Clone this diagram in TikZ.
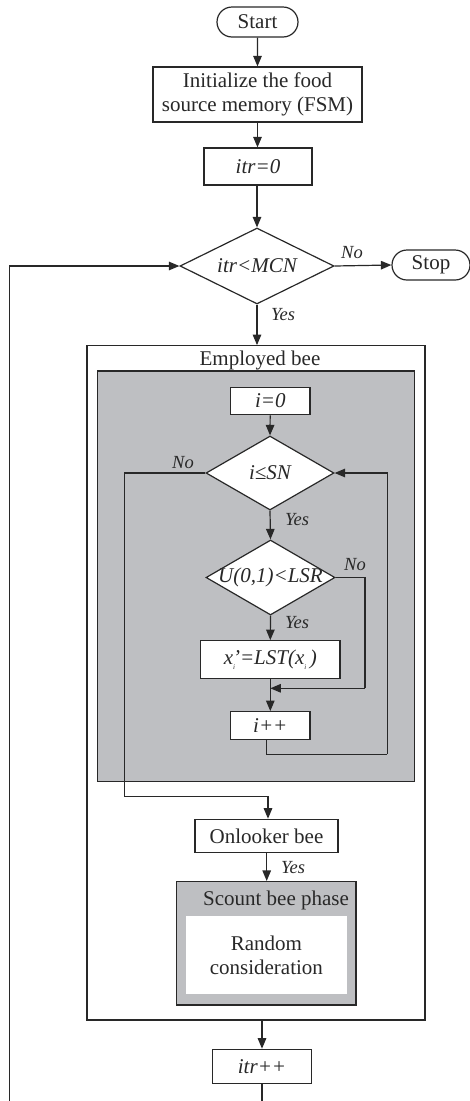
\documentclass[tikz,border=0pt]{standalone}
\usepackage{fontspec}
\setmainfont{Liberation Serif}
\usetikzlibrary{shapes.geometric,shapes.misc,arrows.meta}
\definecolor{ln}{RGB}{40,40,40}
\definecolor{fillgray}{RGB}{190,191,194}
\tikzset{
  base/.style={draw=ln, line width=1.2pt, inner sep=0pt, font=\fontsize{21}{24}\selectfont, text=ln},
  box/.style={base, rectangle, fill=white},
  term/.style={base, rounded rectangle, fill=white},
  dia/.style={base, diamond, fill=white},
  arr/.style={draw=ln, line width=1.2pt, -{Triangle[length=10.5pt,width=8.5pt]}},
  ln/.style={draw=ln, line width=1.2pt},
  lab/.style={font=\fontsize{18.5}{20}\selectfont\itshape, text=ln, inner sep=0pt},
  txt/.style={font=\fontsize{21}{24}\selectfont, text=ln, inner sep=0pt}
}
\begin{document}
\begin{tikzpicture}[x=1pt,y=-1pt]
\useasboundingbox (0,0) rectangle (470,1101);
% containers
\node[base, rectangle, minimum width=338pt, minimum height=674.3pt] (emp) at (256,682.85) {};
\node[txt] (emplab) at (260,360) {Employed bee};
\node[base, rectangle, fill=fillgray, minimum width=317.4pt, minimum height=410.7pt] (gray) at (256,576.35) {};
% top flow
\node[term, minimum width=81pt, minimum height=30pt] (start) at (257.5,22) {Start};
\node[box, minimum width=209pt, minimum height=55pt, align=center] (init) at (257.5,94.5) {Initialize the food\\source memory (FSM)};
\node[box, minimum width=108pt, minimum height=37pt, font=\fontsize{21}{24}\selectfont\itshape] (itr0) at (258,166.5) {itr=0};
\node[dia, minimum width=154pt, minimum height=76pt, label={[txt, font=\fontsize{21}{24}\selectfont\itshape]center:itr<MCN}] (d1) at (257,266) {};
\node[term, minimum width=78pt, minimum height=30pt] (stop) at (431,265) {Stop};
% inner loop
\node[box, minimum width=79.3pt, minimum height=27.7pt, font=\fontsize{21}{24}\selectfont\itshape] (i0) at (270.3,401) {i=0};
\node[dia, minimum width=128pt, minimum height=74pt, label={[txt, font=\fontsize{21}{24}\selectfont\itshape]center:i≤SN}] (d2) at (270,473) {};
\node[dia, minimum width=129pt, minimum height=75pt, label={[txt, font=\fontsize{21}{24}\selectfont\itshape]center:U(0,1)<LSR}] (d3) at (270.5,577.5) {};
\node[box, minimum width=139.3pt, minimum height=37.6pt, font=\fontsize{21}{24}\selectfont\itshape] (xb) at (270.3,659.5) {x\makebox[0pt][l]{\raisebox{-0.5ex}{\fontsize{7}{7}\selectfont i}}’=LST(x\raisebox{-0.5ex}{\fontsize{7}{7}\selectfont i}\,)};
\node[box, minimum width=79.3pt, minimum height=27.6pt, font=\fontsize{21}{24}\selectfont\itshape] (ipp) at (270.3,725.5) {i++};
% lower part
\node[box, minimum width=143pt, minimum height=33.4pt] (onl) at (266.5,836) {Onlooker bee};
\node[base, rectangle, fill=fillgray, line width=1.5pt, minimum width=179.3pt, minimum height=123.3pt] (sc) at (266.35,943.35) {};
\node[txt] (sclab) at (276,900.7) {Scount bee phase};
\node[rectangle, fill=white, minimum width=160.7pt, minimum height=78.3pt, inner sep=0pt] (rnd) at (266.35,954.85) {};
\node[txt, align=center] (rndt) at (266.35,955) {Random\\consideration};
\node[box, minimum width=99.4pt, minimum height=34pt, font=\fontsize{21}{24}\selectfont\itshape] (itrpp) at (262,1066.3) {itr++};
% coordinates
\coordinate (cN) at (124.3,796.7);
\coordinate (cR) at (365,688.3);
\coordinate (j) at (270.3,688.3);
\coordinate (cL) at (387.3,754.3);
\coordinate (ippb) at (266.7,739.3);
\coordinate (onlin) at (268,796.7);
\coordinate (onlout) at (266.7,852.7);
\coordinate (empb) at (262,1020);
\coordinate (b1) at (262,1101);
\coordinate (b2) at (9.5,1101);
% connectors
\draw[arr] (start) -- (init);
\draw[arr] (init) -- (init.south |- itr0.north);
\draw[arr] (itr0.south -| d1.north) -- (d1.north);
\draw[arr] (d1.east) -- (stop.west);
\node[lab] (no1) at (352,253) {No};
\draw[arr] (d1.south) -- (d1.south |- emp.north);
\node[lab] (yes1) at (283,315) {Yes};
\draw[arr] (i0) -- (d2.north);
\draw[ln] (d2.west) -| (cN);
\draw[arr] (cN) -- (onlin) -- (onlin |- onl.north);
\node[lab] (no2) at (183,463) {No};
\draw[arr] (d2.south) -- (d3.north);
\node[lab] (yes2) at (297,520) {Yes};
\draw[arr] (d3.south) -- (xb.north);
\node[lab] (yes3) at (297,623) {Yes};
\draw[ln] (d3.east) -| (cR);
\draw[arr] (cR) -- (j);
\node[lab] (no3) at (355,565) {No};
\draw[arr] (xb.south) -- (ipp.north);
\draw[ln] (ippb) |- (cL);
\draw[arr] (cL) |- (d2.east);
\draw[arr] (onlout) -- (onlout |- sc.north);
\node[lab] (yes4) at (293,868) {Yes};
\draw[arr] (empb) -- (itrpp.north);
\draw[ln] (itrpp.south) -- (b1);
\draw[arr] (b2) |- (d1.west);
\end{tikzpicture}
\end{document}
